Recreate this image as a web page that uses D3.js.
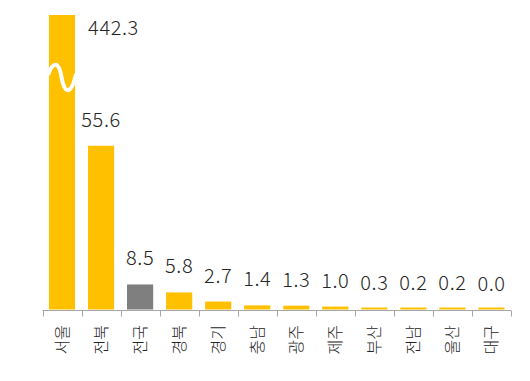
<!DOCTYPE html>
<html><head><meta charset="utf-8">
<script src="https://cdn.jsdelivr.net/npm/d3@7"></script>
<style>body{margin:0;background:#fff}svg{display:block}</style>
</head><body>
<svg id="c" width="530" height="381"></svg>
<script>
const categories = ["서울","전북","전국","경북","경기","충남","광주","제주","부산","전남","울산","대구"];
const values = [442.3,55.6,8.5,5.8,2.7,1.4,1.3,1.0,0.3,0.2,0.2,0.0];
const labels = ["442.3","55.6","8.5","5.8","2.7","1.4","1.3","1.0","0.3","0.2","0.2","0.0"];
const highlight = "전국";
const axisCap = 100;

const svg = d3.select("#c");
const x0 = 42.5, x1 = 511, yBase = 310, yTop = 15;
const x = d3.scaleBand().domain(categories).range([x0, x1]).paddingInner(0.33).paddingOuter(0.165);
const y = d3.scaleLinear().domain([0, axisCap]).range([yBase - 0.5, yTop]);
const step = x.step();

svg.selectAll("rect.bar").data(categories).enter().append("rect")
  .attr("x", d => x(d))
  .attr("width", x.bandwidth())
  .attr("y", (d,i) => Math.min(y(0) - 2, y(Math.min(values[i], axisCap))))
  .attr("height", (d,i) => Math.max(2, y(0) - y(Math.min(values[i], axisCap))))
  .attr("fill", d => d === highlight ? "#7f7f7f" : "#ffc000");

// break mark on the capped bar
categories.forEach((c,i) => {
  if (values[i] > axisCap) {
    const bx = x(c), bw = x.bandwidth();
    const p = d3.path();
    p.moveTo(bx - 1, 75);
    p.bezierCurveTo(bx + bw*0.18, 60, bx + bw*0.38, 62, bx + bw*0.48, 77);
    p.bezierCurveTo(bx + bw*0.6, 95, bx + bw*0.85, 95, bx + bw + 1, 74);
    svg.append("path").attr("d", p.toString()).attr("fill","none")
      .attr("stroke","#fff").attr("stroke-width",4);
  }
});

// value labels
svg.selectAll("text.val").data(categories).enter().append("text")
  .attr("x", (d,i) => values[i] > axisCap ? x(d) + x.bandwidth() + 13 : x(d) + x.bandwidth()/2)
  .attr("y", (d,i) => values[i] > axisCap ? 35 : y(values[i]) - 19)
  .attr("text-anchor", (d,i) => values[i] > axisCap ? "start" : "middle")
  .attr("font-family", "'Noto Sans CJK KR','Noto Sans',sans-serif")
  .attr("font-weight", 300)
  .attr("font-size", 20)
  .attr("letter-spacing", 0.6)
  .attr("fill", "#262626")
  .text((d,i) => labels[i]);

// axis
const g = svg.append("g").attr("transform", `translate(0,${yBase})`);
g.append("line").attr("x1", x0).attr("x2", x1).attr("y1", 0.5).attr("y2", 0.5)
  .attr("stroke", "#a6a6a6").attr("stroke-width", 1);
const bounds = d3.range(categories.length + 1).map(i => x0 + i * step);
g.selectAll("line.tk").data(bounds).enter().append("line")
  .attr("x1", d => Math.round(d) + 0.5).attr("x2", d => Math.round(d) + 0.5)
  .attr("y1", 0.5).attr("y2", 6.5).attr("stroke", "#a6a6a6");

svg.selectAll("text.cat").data(categories).enter().append("text")
  .attr("transform", d => `translate(${x(d) + x.bandwidth()/2 + 6},${yBase + 15}) rotate(-90)`)
  .attr("text-anchor", "end")
  .attr("font-family", "'Noto Sans CJK KR',sans-serif")
  .attr("font-weight", 300)
  .attr("font-size", 16)
  .attr("fill", "#262626")
  .text(d => d);
</script>
</body></html>
